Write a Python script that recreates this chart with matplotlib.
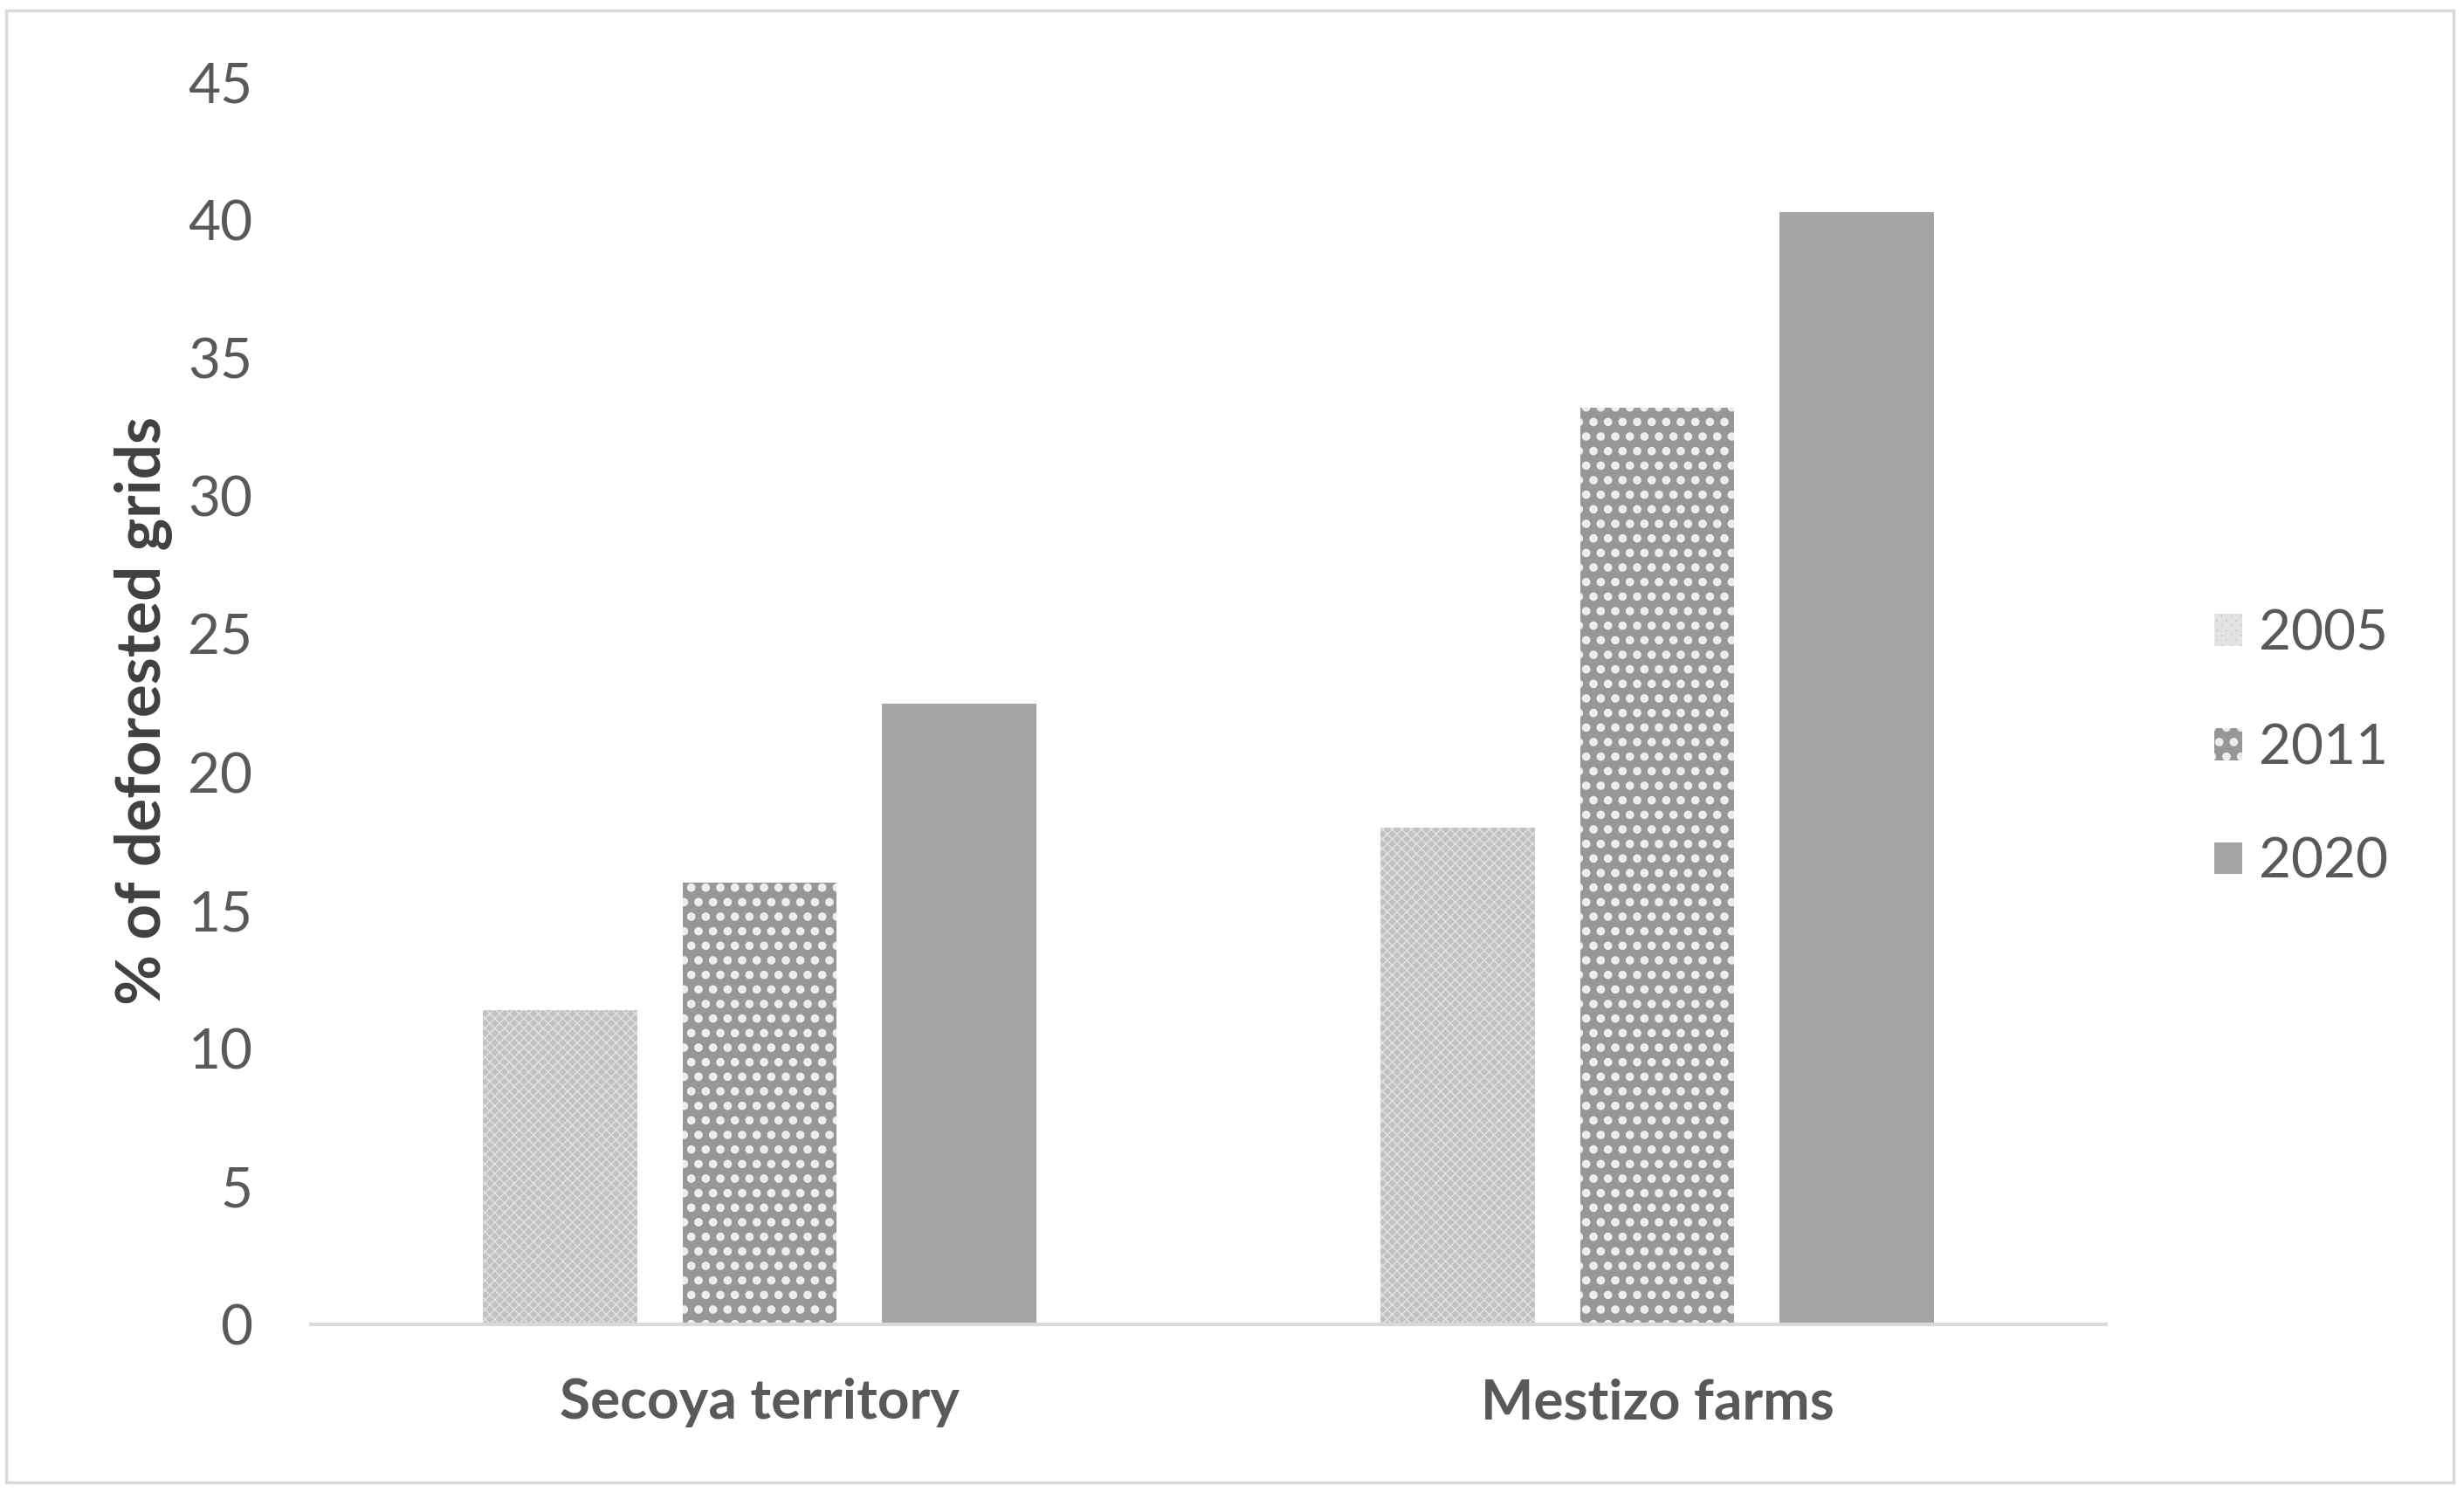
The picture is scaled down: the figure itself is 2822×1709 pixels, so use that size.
import numpy as np
import matplotlib.pyplot as plt
from matplotlib.patches import Rectangle

# data
categories = ["Secoya territory", "Mestizo farms"]
years = ["2005", "2011", "2020"]
values_2005 = [11.4, 18.0]
values_2011 = [16.0, 33.2]
values_2020 = [22.5, 40.3]
y_ticks = [0, 5, 10, 15, 20, 25, 30, 35, 40, 45]

series = [values_2005, values_2011, values_2020]
faces = ["#c2c2c2", "#979797", "#a5a5a5"]
hatch_cols = ["#e2e2e2", "#eeeeee", "#a5a5a5"]
hatches = ["xxx", ".", None]
hatch_lws = [1.0, 4.5, 1.0]

plt.rcParams["font.family"] = ["Lato", "DejaVu Sans"]
plt.rcParams["hatch.linewidth"] = 4.5

fig = plt.figure(figsize=(28.22, 17.09), dpi=100)
ax = fig.add_axes([356 / 2822, 1 - 1517 / 1709, 2056 / 2822, 1423 / 1709])

x = np.arange(len(categories))
width = 0.172
offsets = [-0.222, 0.0, 0.222]
for vals, off, fc, hc, h, hlw, lab in zip(series, offsets, faces, hatch_cols,
                                          hatches, hatch_lws, years):
    bars = ax.bar(x + off, vals, width, color=fc, edgecolor=hc, linewidth=0,
                  hatch=h, label=lab, zorder=2)
    for b in bars:
        if hasattr(b, "set_hatch_linewidth"):
            b.set_hatch_linewidth(hlw)

ax.set_xlim(-0.5, 1.5)
ax.set_ylim(0, 45)
ax.set_yticks(y_ticks)
ax.set_xticks(x)
ax.set_xticklabels(categories, fontweight="bold")

for side in ["top", "right", "left"]:
    ax.spines[side].set_visible(False)
ax.spines["bottom"].set_color("#d9d9d9")
ax.spines["bottom"].set_linewidth(3)
ax.spines["bottom"].set_zorder(3)

ax.tick_params(axis="y", length=0, pad=48, labelsize=46, labelcolor="#595959")
ax.tick_params(axis="x", length=0, pad=44, labelsize=46, labelcolor="#595959")

ax.set_ylabel("% of deforested grids", fontsize=51, fontweight="bold",
              color="#404040", va="center")
ax.yaxis.set_label_coords(-0.093, 0.494)

leg = fig.legend(loc="center left", bbox_to_anchor=(2536 / 2822, 1 - 857 / 1709),
                 frameon=False, fontsize=46, handlelength=0.5, handleheight=0.5,
                 handletextpad=0.3, labelspacing=1.14, borderpad=0, borderaxespad=0)
for t in leg.get_texts():
    t.set_color("#595959")

# light grey frame around the whole chart
fig.patches.append(Rectangle((7 / 2822, 1 - 1698 / 1709), 2803 / 2822, 1686 / 1709,
                             transform=fig.transFigure, fill=False,
                             edgecolor="#d9d9d9", linewidth=2.5))

fig.savefig("out.png", dpi=100)
